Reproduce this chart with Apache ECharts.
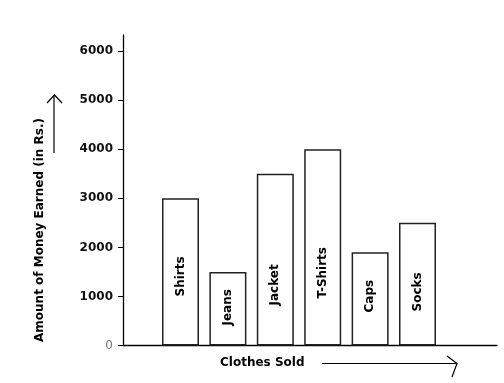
<!DOCTYPE html>
<html>
<head>
<meta charset="utf-8">
<script src="https://cdn.jsdelivr.net/npm/echarts@6/dist/echarts.min.js"></script>
<style>html,body{margin:0;padding:0;background:#fff}#c{width:504px;height:383px}</style>
</head>
<body>
<div id="c"></div>
<script>
const categories = ['Shirts', 'Jeans', 'Jacket', 'T-Shirts', 'Caps', 'Socks'];
const moneyEarned = [3000, 1500, 3500, 4000, 1900, 2500];
const yTickValues = [0, 1000, 2000, 3000, 4000, 5000, 6000];
const labelDistance = [49, 20, 40, 47, 33, 34];

const chart = echarts.init(document.getElementById('c'));
const FONT = 'DejaVu Sans';
chart.setOption({
  animation: false,
  backgroundColor: '#fff',
  grid: { left: 123, right: 7, top: 35, bottom: 37.5, containLabel: false },
  xAxis: {
    type: 'value', min: -1.213, max: 6.677,
    axisLine: { show: true, onZero: false, lineStyle: { color: '#000', width: 1.3 } },
    axisTick: { show: false }, axisLabel: { show: false }, splitLine: { show: false }
  },
  yAxis: {
    type: 'value', min: 0, max: 6330, position: 'left',
    axisLine: { show: true, onZero: false, lineStyle: { color: '#000', width: 1.3 } },
    axisTick: { show: true, length: 5, customValues: yTickValues, lineStyle: { color: '#000' } },
    axisLabel: {
      customValues: yTickValues, margin: 10,
      fontFamily: FONT, fontWeight: 'bold', fontSize: 12, color: '#111',
      formatter: v => v === 0 ? '{z|0}' : String(v),
      rich: { z: { fontFamily: FONT, fontWeight: 'normal', fontSize: 12, color: '#777' } }
    },
    splitLine: { show: false }
  },
  series: [{
    type: 'bar',
    barWidth: 37,
    data: moneyEarned.map((v, i) => ({
      value: [i, v],
      label: { distance: labelDistance[i] }
    })),
    itemStyle: { color: '#fff', borderColor: '#222', borderWidth: 1.5 },
    label: {
      show: true, position: 'insideBottom', rotate: 90,
      align: 'left', verticalAlign: 'middle',
      fontFamily: FONT, fontWeight: 'bold', fontSize: 12, color: '#000',
      formatter: p => categories[p.dataIndex]
    }
  }],
  graphic: [
    { type: 'text', left: 220, top: 357,
      style: { text: 'Clothes Sold', fontFamily: FONT, fontWeight: 'bold', fontSize: 12, fill: '#000' } },
    { type: 'text', x: 40, y: 230, rotation: Math.PI / 2,
      style: { text: 'Amount of Money Earned (in Rs.)', fontFamily: FONT, fontWeight: 'bold', fontSize: 12,
               fill: '#000', align: 'center', verticalAlign: 'middle' } },
    { type: 'polyline', shape: { points: [[54, 153], [54, 95]] }, style: { stroke: '#000', lineWidth: 1.2, fill: null } },
    { type: 'polyline', shape: { points: [[47, 103], [54.5, 95], [62, 103]] }, style: { stroke: '#000', lineWidth: 1.2, fill: null } },
    { type: 'polyline', shape: { points: [[322, 363.5], [456, 363.5]] }, style: { stroke: '#000', lineWidth: 1.2, fill: null } },
    { type: 'polyline', shape: { points: [[447, 356], [457, 363.5], [452, 377]] }, style: { stroke: '#000', lineWidth: 1.2, fill: null } }
  ]
});
</script>
</body>
</html>
